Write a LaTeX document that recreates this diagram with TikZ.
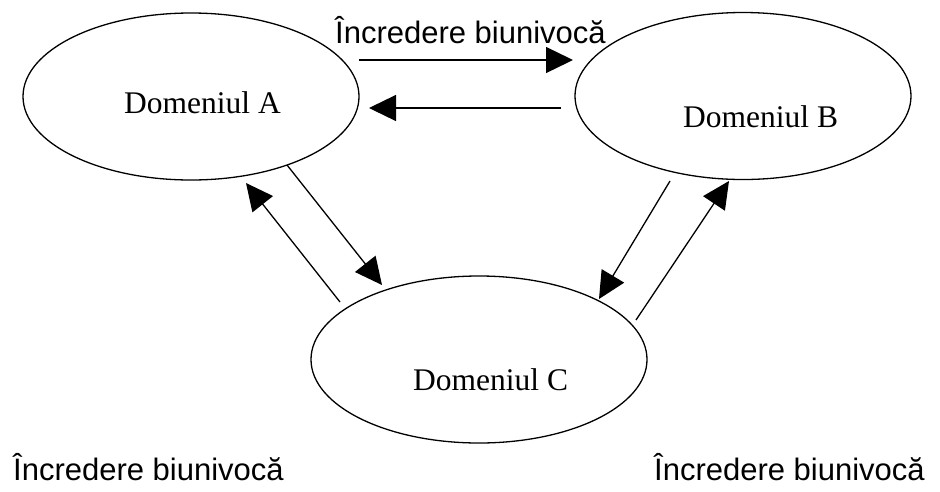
\documentclass[tikz,border=0pt]{standalone}
\usepackage{fontspec}
\setmainfont{Liberation Serif}
\newfontfamily\labfont{Liberation Sans}
\usetikzlibrary{shapes.geometric,arrows.meta}
\begin{document}
\begin{tikzpicture}[x=1pt,y=-1pt,
  dom/.style={draw, ellipse, line width=1.3pt, minimum width=336pt, minimum height=167pt, inner sep=0pt, outer sep=0pt},
  domtext/.style={anchor=base west, inner sep=0pt, font=\fontsize{31.5}{36}\selectfont},
  lab/.style={anchor=base west, inner sep=0pt, font=\labfont\fontsize{31}{36}\selectfont},
  link/.style={line width=1.3pt, -{Triangle[length=27pt,width=26pt]}}]
\useasboundingbox (0,0) rectangle (940,491);
% domains
\node[dom] (A) at (191,96.5) {};
\node[dom] (B) at (743,96) {};
\node[dom] (C) at (479,359.5) {};
\node[domtext] (tA) at (124,113) {Domeniul A};
\node[domtext] (tB) at (683,127) {Domeniul B};
\node[domtext] (tC) at (413,390) {Domeniul C};
% labels
\node[lab] (l1) at (335,43) {Încredere biunivocă};
\node[lab] (l2) at (13,480) {Încredere biunivocă};
\node[lab] (l3) at (654,480) {Încredere biunivocă};
% connector end points
\coordinate (ab1) at (359,60);
\coordinate (ab2) at (573,60);
\coordinate (ba1) at (561,108);
\coordinate (ba2) at (369,108);
\coordinate (ac1) at (287,165);
\coordinate (ac2) at (382,285);
\coordinate (ca1) at (340,302);
\coordinate (ca2) at (246,183);
\coordinate (bc1) at (670,181);
\coordinate (bc2) at (599,299);
\coordinate (cb1) at (636,320);
\coordinate (cb2) at (729,181);
% connectors
\draw[link] (ab1) -- (ab2);
\draw[link] (ba1) -- (ba2);
\draw[link] (ac1) -- (ac2);
\draw[link] (ca1) -- (ca2);
\draw[link] (bc1) -- (bc2);
\draw[link] (cb1) -- (cb2);
\end{tikzpicture}
\end{document}
